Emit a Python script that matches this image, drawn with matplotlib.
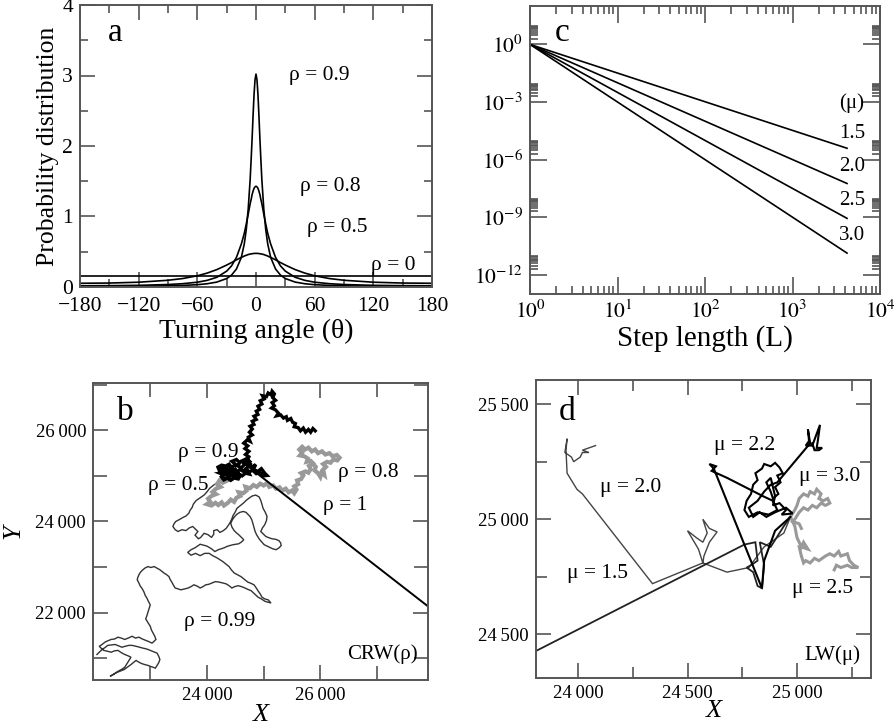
import matplotlib
matplotlib.use("Agg")
import matplotlib.pyplot as plt
import numpy as np
from matplotlib.ticker import MultipleLocator, FixedLocator, NullFormatter, FuncFormatter

plt.rcParams["font.family"] = ["Liberation Serif", "DejaVu Serif"]
plt.rcParams["mathtext.fontset"] = "stix"

# ---- panel a: turning angle distributions (one side, symmetric)
angle_half = [0, 1, 2, 3, 4, 5, 6, 8, 10, 12, 15, 20, 25, 30, 40, 50, 60, 75, 90, 120, 150, 180]
pdf_rho09 = [3.02, 2.94, 2.73, 2.43, 2.10, 1.80, 1.52, 1.10, 0.81, 0.61, 0.42, 0.255, 0.169, 0.120,
             0.070, 0.046, 0.033, 0.0225, 0.0167, 0.0112, 0.009, 0.0084]
pdf_rho08 = [1.43, 1.42, 1.40, 1.36, 1.31, 1.24, 1.18, 1.03, 0.89, 0.76, 0.61, 0.42, 0.30, 0.225,
             0.138, 0.094, 0.068, 0.047, 0.035, 0.0235, 0.019, 0.0177]
pdf_rho05 = [0.477, 0.477, 0.476, 0.474, 0.472, 0.470, 0.467, 0.460, 0.450, 0.439, 0.420, 0.385,
             0.347, 0.311, 0.247, 0.197, 0.159, 0.120, 0.0955, 0.068, 0.056, 0.053]
pdf_rho0 = [0.159] * len(angle_half)
rho_labels_a = ["ρ = 0.9", "ρ = 0.8", "ρ = 0.5", "ρ = 0"]
rho_label_pos_a = [(65, 3.0), (76, 1.42), (83, 0.84), (140, 0.31)]

# ---- panel c: step length power laws
step_L = [1, 4200]
mu_values = ["1.5", "2.0", "2.5", "3.0"]
pl_end = {"1.5": 3.9e-6, "2.0": 5.7e-8, "2.5": 8.7e-10, "3.0": 1.35e-11}

# ---- panel b: CRW trajectories (X, Y)
rho099_xy = [
    (24350, 25040), (24270, 24950), (24190, 24860), (24120, 24800), (24050, 24730), (24000, 24650),
    (23950, 24580), (23880, 24520), (23810, 24460), (23760, 24380), (23740, 24310), (23700, 24240),
    (23680, 24180), (23630, 24120), (23580, 24090), (23510, 24040), (23450, 24000), (23420, 23950),
    (23400, 23890), (23440, 23820), (23490, 23780), (23560, 23820), (23630, 23800), (23690, 23860),
    (23750, 23890), (23800, 23830), (23840, 23780), (23790, 23700), (23850, 23620), (23890, 23650),
    (23950, 23740), (24020, 23710), (24080, 23650), (24120, 23720), (24120, 23800), (24180, 23820),
    (24230, 23760), (24290, 23800), (24340, 23850), (24380, 23920), (24410, 23980), (24440, 24060),
    (24460, 24130), (24500, 24210), (24530, 24290), (24580, 24340), (24640, 24400), (24690, 24460),
    (24740, 24510), (24800, 24560), (24860, 24580), (24920, 24540), (24950, 24460), (24970, 24380),
    (24990, 24290), (25030, 24200), (25060, 24110), (25050, 24020), (25020, 23930), (24980, 23860),
    (24950, 23780), (25000, 23720), (25040, 23670), (25100, 23640), (25150, 23620), (25210, 23610),
    (25270, 23580), (25300, 23530), (25310, 23470), (25270, 23420), (25220, 23380), (25160, 23400),
    (25110, 23430), (25060, 23460), (25010, 23490), (24960, 23560), (24920, 23620), (24880, 23700),
    (24850, 23780), (24830, 23870), (24810, 23960), (24790, 24040), (24760, 24110), (24720, 24160),
    (24690, 24200), (24640, 24220), (24580, 24200), (24530, 24160), (24490, 24110), (24450, 24040),
    (24420, 23960), (24440, 23880), (24480, 23800), (24520, 23750), (24560, 23710), (24610, 23650),
    (24650, 23600), (24610, 23550), (24560, 23510), (24510, 23500), (24460, 23490), (24400, 23470),
    (24350, 23450), (24300, 23420), (24250, 23400), (24200, 23380), (24140, 23340), (24080, 23400),
    (24000, 23460), (23880, 23500), (23800, 23430), (23720, 23380), (23660, 23320), (23720, 23260),
    (23800, 23300), (23880, 23250), (23960, 23300), (24040, 23300), (24100, 23250), (24180, 23200),
    (24230, 23160), (24280, 23120), (24340, 23060), (24390, 23010), (24430, 22940), (24480, 22870),
    (24540, 22830), (24600, 22790), (24660, 22730), (24720, 22670), (24780, 22640), (24830, 22610),
    (24870, 22540), (24900, 22480), (24940, 22410), (24970, 22340), (25020, 22300), (25080, 22280),
    (25130, 22210), (25070, 22230), (25020, 22250), (24960, 22300), (24900, 22340), (24840, 22410),
    (24780, 22480), (24720, 22510), (24670, 22540), (24610, 22570), (24550, 22590), (24490, 22570),
    (24440, 22540), (24390, 22590), (24340, 22630), (24280, 22650), (24210, 22670), (24150, 22680),
    (24090, 22650), (24030, 22620), (23980, 22610), (23930, 22570), (23880, 22540), (23830, 22580),
    (23770, 22610), (23720, 22570), (23670, 22540), (23610, 22520), (23540, 22500), (23490, 22520),
    (23440, 22540), (23410, 22600), (23380, 22670), (23350, 22730), (23330, 22790), (23280, 22840),
    (23240, 22870), (23200, 22910), (23170, 22940), (23070, 23010), (23010, 22990), (22960, 23010),
    (22910, 22980), (22870, 22940), (22830, 22890), (22800, 22830), (22780, 22770), (22770, 22720),
    (22800, 22650), (22820, 22590), (22860, 22520), (22890, 22450), (22910, 22380), (22940, 22320),
    (22970, 22240), (23000, 22170), (22980, 22090), (22960, 22010), (22940, 21930), (22920, 21860),
    (22960, 21780), (23000, 21700), (23020, 21620), (23050, 21550), (23080, 21480), (23100, 21410),
    (23060, 21360), (23030, 21330), (22980, 21360), (22920, 21390), (22860, 21420), (22800, 21460),
    (22740, 21440), (22680, 21480), (22610, 21440), (22550, 21410), (22490, 21440), (22430, 21460),
    (22370, 21420), (22310, 21410), (22250, 21380), (22200, 21350), (22150, 21300), (22100, 21260),
    (22140, 21210), (22180, 21170), (22250, 21150), (22310, 21130), (22370, 21160), (22430, 21170),
    (22490, 21120), (22550, 21080), (22610, 21050), (22660, 21020), (22600, 20900), (22550, 20800),
    (22490, 20750), (22430, 20710), (22360, 20650), (22290, 20600), (22400, 20680), (22540, 20750),
    (22650, 20850), (22750, 20950), (22800, 20910), (22850, 20880), (22900, 20860), (22960, 20840),
    (23000, 20820), (23050, 20800), (23090, 20780), (23120, 20840), (23150, 20900), (23170, 20970),
    (23150, 21040), (23120, 21110), (23060, 21140), (23000, 21170), (22940, 21200), (22870, 21220),
    (22810, 21240), (22750, 21260), (22680, 21280), (22620, 21280), (22560, 21260), (22500, 21240),
    (22440, 21270), (22380, 21300), (22310, 21290), (22250, 21280), (22200, 21230), (22150, 21190),
    (22100, 21130), (22060, 21080),
]
rho08_xy = [
    (24350, 25040), (24300, 24960), (24360, 24900), (24280, 24850), (24220, 24900), (24180, 24820),
    (24240, 24760), (24160, 24720), (24100, 24650), (24160, 24600), (24080, 24560), (24020, 24500),
    (24060, 24430), (24000, 24380), (24080, 24350), (24150, 24410), (24200, 24360), (24260, 24420),
    (24300, 24350), (24370, 24410), (24420, 24480), (24480, 24430), (24520, 24520), (24590, 24560),
    (24560, 24640), (24640, 24620), (24700, 24680), (24680, 24760), (24760, 24730), (24820, 24800),
    (24880, 24760), (24940, 24830), (25000, 24790), (25060, 24840), (25100, 24760), (25170, 24790),
    (25220, 24720), (25280, 24750), (25330, 24680), (25390, 24720), (25440, 24640), (25500, 24680),
    (25540, 24620), (25580, 24700), (25540, 24770), (25610, 24820), (25590, 24900), (25660, 24930),
    (25700, 25010), (25660, 25060), (25740, 25100), (25790, 25070), (25830, 25150), (25800, 25220),
    (25870, 25260), (25920, 25200), (25900, 25120), (25960, 25060), (26000, 24980), (26020, 25070),
    (26070, 25020), (26050, 25140), (26100, 25200), (26050, 25260), (26120, 25310), (26180, 25290),
    (26230, 25360), (26300, 25340), (26340, 25400), (26290, 25460), (26220, 25430), (26160, 25500),
    (26090, 25470), (26030, 25540), (25960, 25500), (25910, 25580), (25850, 25540), (25790, 25620),
    (25730, 25580), (25680, 25640), (25630, 25580), (25680, 25510), (25640, 25450), (25720, 25430),
    (25780, 25380), (25760, 25310), (25830, 25330), (25870, 25280),
]
rho09_xy = [
    (24350, 25040), (24400, 25110), (24330, 25160), (24380, 25230), (24450, 25190), (24500, 25260),
    (24440, 25320), (24520, 25360), (24580, 25290), (24540, 25220), (24610, 25180), (24660, 25250),
    (24620, 25330), (24700, 25380), (24760, 25310), (24720, 25240), (24800, 25200), (24860, 25250),
    (24820, 25140), (24900, 25100), (24960, 25160), (25020, 25060), (25060, 25010), (24990, 25000),
    (24930, 25080), (24870, 25050), (24810, 25120), (24740, 25090), (24680, 25150), (24640, 25100),
    (24580, 25140), (24520, 25080), (24470, 25130), (24420, 25060), (24480, 25010), (24560, 25040),
    (24620, 25000), (24680, 25060), (24750, 25040), (24700, 25170), (24760, 25260), (24690, 25310),
    (24740, 25420), (24680, 25470), (24740, 25540), (24670, 25600), (24720, 25660), (24650, 25720),
    (24710, 25790), (24760, 25760), (24730, 25850), (24800, 25900), (24750, 25960), (24800, 26030),
    (24760, 26090), (24830, 26130), (24800, 26200), (24870, 26240), (24830, 26310), (24900, 26350),
    (24870, 26420), (24930, 26460), (24900, 26530), (24970, 26580), (24940, 26650), (25010, 26690),
    (24980, 26760), (25050, 26740), (25080, 26820), (25130, 26780), (25150, 26860), (25190, 26800),
    (25160, 26720), (25210, 26660), (25150, 26610), (25190, 26540), (25140, 26490), (25210, 26450),
    (25260, 26380), (25230, 26320), (25300, 26340), (25350, 26270), (25400, 26300), (25420, 26220),
    (25480, 26260), (25510, 26180), (25560, 26150), (25540, 26080), (25610, 26060), (25650, 25990),
    (25700, 26050), (25740, 25960), (25790, 26020), (25830, 25960), (25870, 26040), (25910, 25990),
]
rho05_xy = [
    (24350, 25040), (24290, 25090), (24350, 25130), (24270, 25170), (24220, 25130), (24200, 25190),
    (24260, 25230), (24330, 25210), (24390, 25250), (24430, 25180), (24380, 25120), (24450, 25090),
    (24500, 25140), (24540, 25070), (24480, 25020), (24560, 24990), (24600, 25050), (24550, 24940),
    (24480, 24960), (24420, 24910), (24360, 24960), (24300, 24920), (24260, 24980), (24300, 25030),
    (24240, 25060), (24320, 25080), (24400, 25020), (24370, 24980), (24440, 25040), (24400, 25090),
    (24460, 25150), (24330, 25060),
]
rho1_xy = [(24600, 25330), (28000, 22040)]
rho_labels_b = ["ρ = 0.9", "ρ = 0.5", "ρ = 0.8", "ρ = 1", "ρ = 0.99"]
rho_label_pos_b = [(24020, 25520), (23490, 24800), (26840, 25080), (26430, 24350), (24230, 21810)]

# ---- panel d: Levy walk trajectories (X, Y)
mu15_xy = [
    (24970, 25010), (24940, 24970), (24880, 24880), (24830, 24900), (24850, 24800), (24840, 24700),
    (24820, 24710), (24800, 24770), (24770, 24790), (24790, 24800), (24820, 24820), (24810, 24900),
    (24760, 24890), (23700, 24375),
]
mu20_xy = [
    (24080, 25320), (24020, 25300), (24050, 25290), (24020, 25290), (24010, 25270), (23980, 25250),
    (23970, 25270), (23940, 25290), (23950, 25350), (23945, 25300), (23950, 25200), (23995, 25130),
    (24020, 25110), (24340, 24720), (24570, 24810), (24550, 24870), (24500, 24950), (24540, 24920),
    (24570, 24900), (24590, 24940), (24570, 25000), (24600, 24960), (24635, 24945), (24600, 24900),
    (24575, 24840), (24570, 24810), (24680, 24770), (24780, 24790), (24850, 24880), (24940, 24940),
    (24970, 25010),
]
mu22_xy = [
    (24970, 25010), (24900, 24950), (24850, 24820), (24840, 24700), (24620, 25220), (24600, 25240),
    (24630, 25230), (24610, 25210), (24680, 25180), (24845, 25100), (24890, 25080), (24910, 25040),
    (24870, 25020), (24820, 25030), (24780, 25010), (24760, 25040), (24770, 25080), (24790, 25110),
    (24800, 25150), (24820, 25170), (24810, 25200), (24840, 25220), (24850, 25240), (24880, 25230),
    (24900, 25245), (24920, 25225), (24935, 25200), (24910, 25190), (24925, 25160), (24900, 25140),
    (24915, 25110), (24890, 25090), (24880, 25120), (24860, 25160), (24880, 25180), (24900, 25100),
    (24890, 25060), (24920, 25070), (24950, 25040), (24930, 25020), (24980, 25025), (24950, 25050),
    (24900, 25030), (24860, 25010), (24830, 25030), (24800, 25010), (24780, 25050), (24820, 25080),
    (24850, 25120), (24880, 25150), (24910, 25160), (25060, 25330), (25050, 25390), (25055, 25340),
    (25040, 25320), (25070, 25320), (25105, 25410), (25095, 25340), (25090, 25310), (25115, 25310),
    (25100, 25300), (25080, 25300), (25070, 25330),
]
mu30_xy = [
    (24970, 25010), (24990, 25040), (25000, 25060), (25010, 25090), (25030, 25110), (25050, 25100),
    (25060, 25120), (25080, 25110), (25090, 25130), (25110, 25110), (25100, 25090), (25120, 25080),
    (25140, 25090), (25150, 25070), (25130, 25060), (25110, 25070), (25090, 25050), (25070, 25060),
    (25050, 25040), (25030, 25050), (25010, 25030), (24990, 25000), (24980, 24990), (25010, 24980),
    (25020, 24960),
]
mu25_xy = [
    (24970, 25010), (24990, 24970), (25000, 24920), (25020, 24880), (25030, 24900), (25050, 24870),
    (25020, 24880), (25010, 24880), (25020, 24840), (25030, 24810), (25040, 24820), (25060, 24810),
    (25080, 24830), (25100, 24820), (25130, 24840), (25150, 24850), (25170, 24840), (25190, 24860),
    (25200, 24840), (25230, 24850), (25240, 24820), (25260, 24800), (25280, 24790), (25250, 24790),
    (25230, 24800), (25200, 24790), (25180, 24800), (25170, 24780),
]
mu_labels_d = ["μ = 2.0", "μ = 1.5", "μ = 2.2", "μ = 3.0", "μ = 2.5"]
mu_label_pos_d = [(24240, 25140), (24090, 24765), (24760, 25320), (25150, 25185), (25115, 24700)]

SPINE = "#555555"
LABEL_FS = 15.5


def style(ax, major_len=10, minor_len=5, size=15.5, xpad=5):
    for s in ax.spines.values():
        s.set_color(SPINE)
        s.set_linewidth(1.4)
    ax.tick_params(which="both", direction="in", top=True, right=True, colors=SPINE,
                   labelcolor="black", labelsize=size, width=1.2)
    ax.tick_params(which="major", length=major_len, pad=5)
    ax.tick_params(axis="x", which="major", pad=xpad)
    ax.tick_params(which="minor", length=minor_len)


def thousands(v, pos):
    s = f"{int(round(v)):d}"
    return s[:-3] + "\u2009" + s[-3:]


def walk(ax, pts, **kw):
    xs, ys = zip(*pts)
    ax.plot(xs, ys, solid_joinstyle="miter", **kw)


fig = plt.figure(figsize=(8.95, 7.28), dpi=100)

# ---------------- panel a
ax = fig.add_axes([80 / 895, 1 - 287 / 728, 352 / 895, 282 / 728])
half = np.array(angle_half)
theta = np.concatenate([-half[::-1], half[1:]])
for vals in (pdf_rho09, pdf_rho08, pdf_rho05, pdf_rho0):
    v = np.array(vals)
    ax.plot(theta, np.concatenate([v[::-1], v[1:]]), color="black", lw=1.2)
ax.set_xlim(-180, 180)
ax.set_ylim(0, 4)
ax.xaxis.set_major_locator(MultipleLocator(60))
ax.xaxis.set_minor_locator(MultipleLocator(30))
ax.yaxis.set_major_locator(MultipleLocator(1))
ax.yaxis.set_minor_locator(MultipleLocator(0.5))
style(ax, 11, 6, xpad=7)
for lab, (x, y) in zip(rho_labels_a, rho_label_pos_a):
    ax.text(x, y, lab, fontsize=LABEL_FS, ha="center", va="center")
ax.text(0.10, 0.90, "a", transform=ax.transAxes, fontsize=24, ha="center", va="center")
ax.set_xlabel("Turning angle (θ)", fontsize=20, labelpad=2)
ax.set_ylabel("Probability distribution", fontsize=18.5, labelpad=2)

# ---------------- panel c
ax = fig.add_axes([530 / 895, 1 - 294 / 728, 350 / 895, 288 / 728])
for mu in mu_values:
    ax.plot(step_L, [1.0, pl_end[mu]], color="black", lw=1.2)
ax.set_xscale("log")
ax.set_yscale("log")
ax.set_xlim(1, 1e4)
ax.set_ylim(1e-13, 1e2)
ax.xaxis.set_major_locator(FixedLocator([1, 10, 100, 1000, 10000]))
ax.xaxis.set_minor_locator(FixedLocator([m * 10.0 ** e for e in range(4) for m in range(2, 10)]))
ax.xaxis.set_major_formatter(FuncFormatter(lambda v, p: f"$10^{{{int(round(np.log10(v)))}}}$"))
ax.xaxis.set_minor_formatter(NullFormatter())
ax.yaxis.set_major_locator(FixedLocator([1e0, 1e-3, 1e-6, 1e-9, 1e-12]))
ax.yaxis.set_minor_locator(FixedLocator([m * 10.0 ** e for e in (-12, -9, -6, -3, 0) for m in range(2, 10)]))
ax.yaxis.set_major_formatter(FuncFormatter(lambda v, p: f"$10^{{{int(round(np.log10(v)))}}}$"))
ax.yaxis.set_minor_formatter(NullFormatter())
style(ax, 12, 6)
ax.text(4800, 10 ** -3.08, "(μ)", fontsize=15, ha="center", va="center")
for mu, ly in zip(mu_values, [-4.64, -6.36, -8.14, -9.96]):
    ax.text(4800, 10 ** ly, mu, fontsize=15, ha="center", va="center")
ax.text(0.091, 0.906, "c", transform=ax.transAxes, fontsize=24, ha="center", va="center")
ax.set_xlabel("Step length (L)", fontsize=21, labelpad=1)

# ---------------- panel b
ax = fig.add_axes([93 / 895, 1 - 680 / 728, 335 / 895, 297 / 728])
walk(ax, rho099_xy, color="#333333", lw=1.0)
walk(ax, rho08_xy, color="#999999", lw=3.0)
walk(ax, rho09_xy, color="black", lw=2.4)
walk(ax, rho05_xy, color="black", lw=2.8)
walk(ax, rho1_xy, color="black", lw=1.4)
ax.set_xlim(21990, 27900)
ax.set_ylim(20520, 27040)
ax.xaxis.set_major_locator(FixedLocator([24000, 26000]))
ax.xaxis.set_minor_locator(FixedLocator([23000, 25000, 27000]))
ax.yaxis.set_major_locator(FixedLocator([22000, 24000, 26000]))
ax.yaxis.set_minor_locator(FixedLocator([21000, 23000, 25000, 27000]))
ax.xaxis.set_major_formatter(FuncFormatter(thousands))
ax.yaxis.set_major_formatter(FuncFormatter(thousands))
style(ax, 11, 10, size=13.5)
for lab, (x, y) in zip(rho_labels_b, rho_label_pos_b):
    ax.text(x, y, lab, fontsize=LABEL_FS, ha="center", va="center")
ax.text(27720, 21083, "CRW(ρ)", fontsize=15, ha="right", va="center")
ax.text(0.096, 0.902, "b", transform=ax.transAxes, fontsize=24, ha="center", va="center")
ax.set_xlabel("X", fontsize=19, style="italic", labelpad=0)
ax.set_ylabel("Y", fontsize=19, style="italic", labelpad=8)

# ---------------- panel d
ax = fig.add_axes([536 / 895, 1 - 678 / 728, 335 / 895, 298 / 728])
walk(ax, mu20_xy, color="#444444", lw=1.0)
walk(ax, mu15_xy, color="#222222", lw=1.3)
walk(ax, mu30_xy, color="#999999", lw=2.2)
walk(ax, mu25_xy, color="#999999", lw=2.2)
walk(ax, mu22_xy, color="black", lw=1.5)
ax.set_xlim(23808, 25338)
ax.set_ylim(24310, 25605)
ax.xaxis.set_major_locator(FixedLocator([24000, 24500, 25000]))
ax.xaxis.set_minor_locator(FixedLocator([24250, 24750, 25250]))
ax.yaxis.set_major_locator(FixedLocator([24500, 25000, 25500]))
ax.yaxis.set_minor_locator(FixedLocator([24750, 25250]))
ax.xaxis.set_major_formatter(FuncFormatter(thousands))
ax.yaxis.set_major_formatter(FuncFormatter(thousands))
style(ax, 11, 8, size=13.5)
for lab, (x, y) in zip(mu_labels_d, mu_label_pos_d):
    ax.text(x, y, lab, fontsize=LABEL_FS, ha="center", va="center")
ax.text(25290, 24410, "LW(μ)", fontsize=15, ha="right", va="center")
ax.text(0.093, 0.893, "d", transform=ax.transAxes, fontsize=24, ha="center", va="center")
ax.set_xlabel("X", fontsize=19, style="italic", labelpad=0)
ax.xaxis.set_label_coords(0.53, -0.075)

fig.savefig("out.png", dpi=100)
